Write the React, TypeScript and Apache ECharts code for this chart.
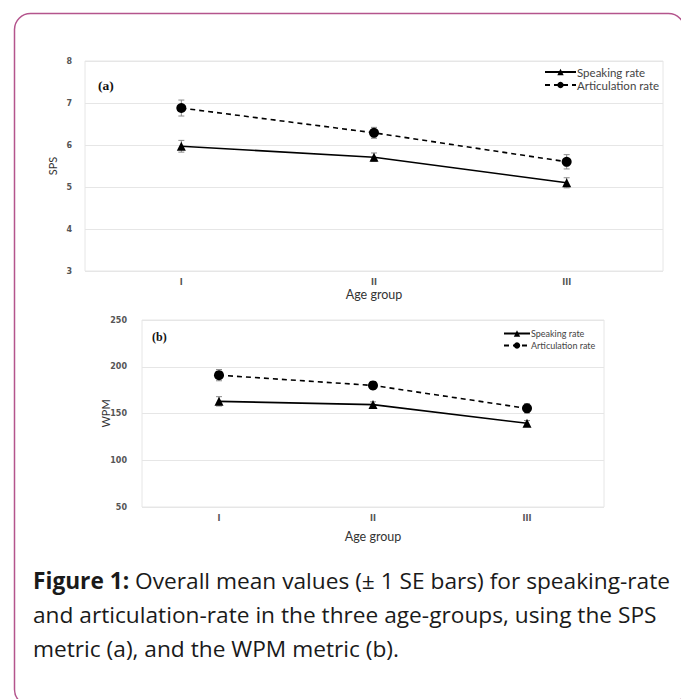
import React, { useEffect, useRef } from "react";
import * as echarts from "echarts";

// ---- data ----
const ageGroups = ["I", "II", "III"];
const seriesNames = ["Speaking rate", "Articulation rate"];

const spsSpeaking = [5.97, 5.71, 5.1];
const spsSpeakingSE = [0.14, 0.1, 0.12];
const spsArticulation = [6.88, 6.29, 5.6];
const spsArticulationSE = [0.19, 0.13, 0.17];

const wpmSpeaking = [163, 159.5, 139.5];
const wpmSpeakingSE = [5, 3, 3];
const wpmArticulation = [191, 180, 155.5];
const wpmArticulationSE = [6, 4, 5];

const spsAxis = { min: 3, max: 8, interval: 1 };
const wpmAxis = { min: 50, max: 250, interval: 50 };

const captionBold = "Figure 1:";
const captionLines = [
  " Overall mean values (\u00b1 1 SE bars) for speaking-rate",
  "and articulation-rate in the three age-groups, using the SPS",
  "metric (a), and the WPM metric (b).",
];

const tickFont = { fontFamily: "DejaVu Sans", fontSize: 8, fontWeight: "bold" as const, color: "#555" };
const nameFont = { fontFamily: "Lato", fontSize: 12.5, color: "#333" };
const captionFont = "Open Sans";
const captionSize = 22.7;

function errorSeries(values: number[], se: number[], idx: number, key: string) {
  return {
    type: "custom",
    name: "se-" + key,
    xAxisIndex: idx,
    yAxisIndex: idx,
    silent: true,
    z: 1,
    encode: { x: 0, y: [1, 2] },
    data: values.map((v, i) => [i, v - se[i], v + se[i]]),
    renderItem: (_p: any, api: any) => {
      const x = api.value(0);
      const lo = api.coord([x, api.value(1)]);
      const hi = api.coord([x, api.value(2)]);
      const w = 3;
      const st = { stroke: "#8a8a8a", lineWidth: 1 };
      return {
        type: "group",
        children: [
          { type: "line", shape: { x1: lo[0], y1: lo[1], x2: hi[0], y2: hi[1] }, style: st },
          { type: "line", shape: { x1: lo[0] - w, y1: lo[1], x2: lo[0] + w, y2: lo[1] }, style: st },
          { type: "line", shape: { x1: hi[0] - w, y1: hi[1], x2: hi[0] + w, y2: hi[1] }, style: st },
        ],
      };
    },
  };
}

function lineSeries(name: string, values: number[], idx: number, dashed: boolean) {
  return {
    type: "line",
    name,
    xAxisIndex: idx,
    yAxisIndex: idx,
    data: values,
    z: 3,
    symbol: dashed ? "circle" : "triangle",
    symbolSize: dashed ? 10 : 9,
    showSymbol: true,
    lineStyle: { color: "#000", width: 1.6, type: dashed ? [5, 4] : "solid" },
    itemStyle: { color: "#000" },
  };
}

export default function App() {
  const ref = useRef<HTMLDivElement>(null);
  useEffect(() => {
    if (!ref.current) return;
    const chart = echarts.init(ref.current, null, { renderer: "svg" });
    const grids = [
      { left: 85, top: 61, width: 578, height: 210 },
      { left: 142, top: 320, width: 462, height: 187 },
    ];
    const axes = [spsAxis, wpmAxis];
    const yNames = ["SPS", "WPM"];
    const xNameGaps = [17, 23];
    const yNameGaps = [27, 31];
    const yLabelMargins = [13, 15];
    chart.setOption({
      animation: false,
      grid: grids.map((g) => ({
        ...g,
        show: true,
        borderColor: "#e6e6e6",
        borderWidth: 1,
        backgroundColor: "transparent",
        containLabel: false,
      })),
      xAxis: grids.map((_, i) => ({
        type: "category",
        gridIndex: i,
        data: ageGroups,
        boundaryGap: true,
        name: "Age group",
        nameLocation: "middle",
        nameGap: xNameGaps[i],
        nameMoveOverlap: false,
        nameTextStyle: nameFont,
        axisLine: { show: false },
        axisTick: { show: false },
        axisLabel: { ...tickFont, margin: 7 },
        splitLine: { show: false },
      })),
      yAxis: grids.map((_, i) => ({
        type: "value",
        gridIndex: i,
        min: axes[i].min,
        max: axes[i].max,
        interval: axes[i].interval,
        name: yNames[i],
        nameLocation: "middle",
        nameGap: yNameGaps[i],
        nameMoveOverlap: false,
        nameRotate: 90,
        nameTextStyle: { ...nameFont, fontSize: 11 },
        axisLine: { show: false },
        axisTick: { show: false },
        axisLabel: { ...tickFont, margin: yLabelMargins[i] },
        splitLine: { show: true, lineStyle: { color: "#e6e6e6", width: 1 } },
      })),
      legend: [
        { left: 539, top: 61, itemWidth: 31, itemHeight: 8, itemGap: 1, fs: 11.5 },
        { left: 498, top: 324, itemWidth: 26, itemHeight: 8, itemGap: 3, fs: 9 },
      ].map(({ fs, ...l }) => ({
        ...l,
        orient: "vertical",
        data: seriesNames,
        selectedMode: false,
        textStyle: { fontFamily: "Lato", fontSize: fs, color: "#444", padding: [0, 0, 0, -4] },
      })),
      series: [
        errorSeries(spsSpeaking, spsSpeakingSE, 0, "a1"),
        errorSeries(spsArticulation, spsArticulationSE, 0, "a2"),
        errorSeries(wpmSpeaking, wpmSpeakingSE, 1, "b1"),
        errorSeries(wpmArticulation, wpmArticulationSE, 1, "b2"),
        lineSeries(seriesNames[0], spsSpeaking, 0, false),
        lineSeries(seriesNames[1], spsArticulation, 0, true),
        lineSeries(seriesNames[0], wpmSpeaking, 1, false),
        lineSeries(seriesNames[1], wpmArticulation, 1, true),
      ],
      graphic: [
        {
          type: "rect",
          silent: true,
          shape: { x: 14.5, y: 13.5, width: 670, height: 692, r: 16 },
          style: { fill: "none", stroke: "#b4558d", lineWidth: 1.5 },
        },
        {
          type: "text",
          x: 98,
          y: 85,
          style: { text: "(a)", fontFamily: "Liberation Serif", fontWeight: "bold", fontSize: 13.5, fill: "#111", verticalAlign: "middle" },
        },
        {
          type: "text",
          x: 152,
          y: 337,
          style: { text: "(b)", fontFamily: "Liberation Serif", fontWeight: "bold", fontSize: 12, fill: "#111", verticalAlign: "middle" },
        },
        {
          type: "text",
          x: 33,
          y: 580,
          style: {
            text: "{b|" + captionBold + "}{n|" + captionLines[0] + "}",
            verticalAlign: "middle",
            rich: {
              b: { fontFamily: captionFont, fontSize: captionSize, fontWeight: "bold", fill: "#1a1a1a" },
              n: { fontFamily: captionFont, fontSize: captionSize, fill: "#1a1a1a" },
            },
          },
        },
        ...captionLines.slice(1).map((t, i) => ({
          type: "text",
          x: 33,
          y: 614 + i * 34,
          style: { text: t, fontFamily: captionFont, fontSize: captionSize, fill: "#1a1a1a", verticalAlign: "middle" },
        })),
      ],
    });
    return () => chart.dispose();
  }, []);
  return (
    <div
      ref={ref}
      style={{ position: "fixed", left: 0, top: 0, width: 681, height: 699, background: "#fff" }}
    />
  );
}
